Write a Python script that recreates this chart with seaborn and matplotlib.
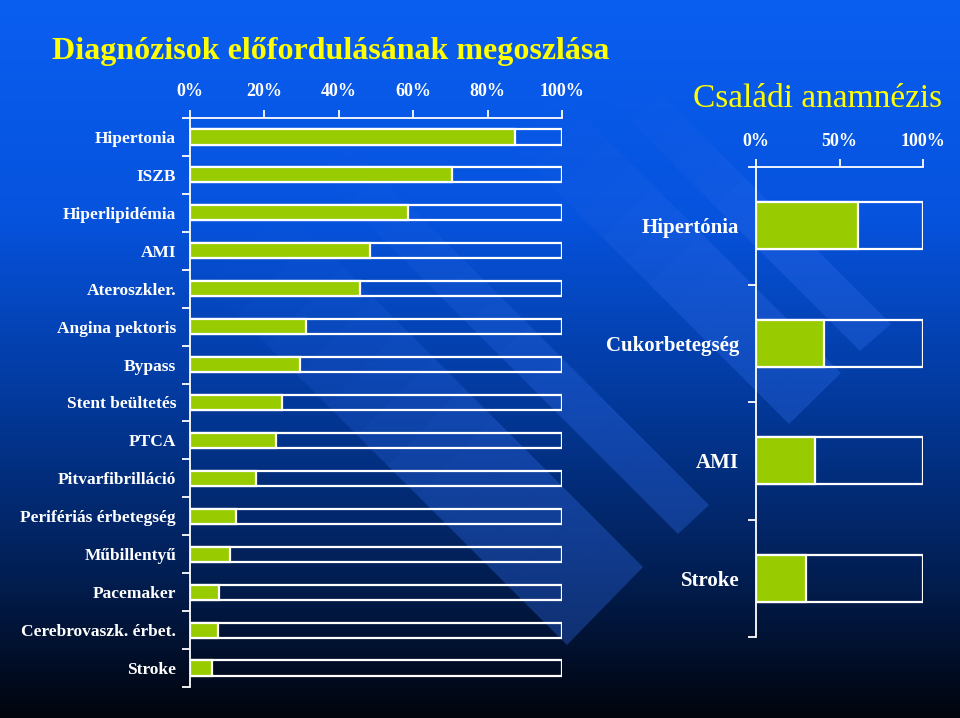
import matplotlib
matplotlib.use("Agg")
import matplotlib.pyplot as plt
from matplotlib.colors import LinearSegmentedColormap
from matplotlib.patches import Polygon
import numpy as np
import pandas as pd
import seaborn as sns

# Diagnózisok (bal oldali diagram), százalék
diag_labels = ["Hipertonia", "ISZB", "Hiperlipidémia", "AMI", "Ateroszkler.",
               "Angina pektoris", "Bypass", "Stent beültetés", "PTCA",
               "Pitvarfibrilláció", "Perifériás érbetegség", "Műbillentyű",
               "Pacemaker", "Cerebrovaszk. érbet.", "Stroke"]
diag_values = [87.3, 70.3, 58.7, 48.3, 45.6, 31.2, 29.7, 24.6, 23.0,
               17.8, 12.3, 10.7, 7.8, 7.4, 5.9]

# Családi anamnézis (jobb oldali diagram), százalék
fam_labels = ["Hipertónia", "Cukorbetegség", "AMI", "Stroke"]
fam_values = [61.2, 41.0, 35.3, 30.1]

left_ticks = [0, 20, 40, 60, 80, 100]
right_ticks = [0, 50, 100]

GREEN = "#99CC00"
YELLOW = "#FFFF00"
SERIF = ["Liberation Serif", "DejaVu Serif"]

sns.set_theme(style="white")
plt.rcParams["font.family"] = SERIF

fig = plt.figure(figsize=(9.6, 7.18), dpi=100)

# háttér: kék színátmenet + átlós csíkok (dia-sablon)
bg = fig.add_axes([0, 0, 1, 1], zorder=-10)
cmap = LinearSegmentedColormap.from_list(
    "bg", [(0.0, "#0A5EF0"), (0.30, "#0653DE"), (0.55, "#033A9E"),
           (0.78, "#02215A"), (1.0, "#01040C")])
grad = np.linspace(0, 1, 256).reshape(-1, 1)
bg.imshow(grad, aspect="auto", cmap=cmap, extent=[0, 960, 718, 0])
# csíkok vége: (csúcs, alsó sarok, hossz), innen balra-felfelé futnak és elhalványulnak
stripe_ends = [((643, 567), (567, 645), 360),
               ((709, 505), (678, 534), 360),
               ((841, 373), (789, 424), 280),
               ((891, 324), (860, 351), 250)]
for (x1, y1), (x2, y2), d in stripe_ends:
    steps = 12
    for k in range(steps):
        a, b = d * k / steps, d * (k + 1) / steps
        alpha = 0.35 * min(1.0, 1.6 * (1 - k / steps))
        pts = [(x1 - a, y1 - a), (x2 - a, y2 - a), (x2 - b, y2 - b), (x1 - b, y1 - b)]
        bg.add_patch(Polygon(pts, closed=True, facecolor="#2E6AE8",
                             alpha=alpha, lw=0))
bg.set_xlim(0, 960)
bg.set_ylim(718, 0)
bg.axis("off")


def stacked_percent(ax, labels, values, ticks, label_size, label_pad, tick_pad):
    df = pd.DataFrame({"label": labels, "value": values})
    df["total"] = 100
    sns.barplot(data=df, x="total", y="label", orient="h", width=0.4,
                facecolor="none", edgecolor="white", linewidth=1.6, ax=ax)
    sns.barplot(data=df, x="value", y="label", orient="h", width=0.4,
                color=GREEN, saturation=1, edgecolor="white", linewidth=1.6, ax=ax)
    n = len(labels)
    ax.set_facecolor("none")
    ax.set_xlim(0, 100)
    ax.set_ylim(n - 0.5, -0.5)
    ax.xaxis.tick_top()
    ax.set_xticks(ticks)
    ax.set_xticklabels([f"{t}%" for t in ticks], color="white",
                       fontsize=13, fontweight="bold")
    ax.set_yticks(range(n))
    ax.set_yticklabels(labels, color="white", fontsize=label_size, fontweight="bold")
    ax.set_yticks(np.arange(n + 1) - 0.5, minor=True)
    ax.tick_params(axis="x", which="major", direction="out", length=6,
                   width=1.3, color="white", pad=tick_pad, top=True, bottom=False)
    ax.tick_params(axis="y", which="major", length=0, pad=label_pad)
    ax.tick_params(axis="y", which="minor", direction="out", length=6,
                   width=1.3, color="white", left=True)
    for side in ["bottom", "right"]:
        ax.spines[side].set_visible(False)
    for side in ["top", "left"]:
        ax.spines[side].set_visible(True)
        ax.spines[side].set_color("white")
        ax.spines[side].set_linewidth(1.3)
    ax.set_xlabel("")
    ax.set_ylabel("")
    ax.grid(False)


ax1 = fig.add_axes([190 / 960, 1 - 687 / 718, 372 / 960, 569 / 718])
stacked_percent(ax1, diag_labels, diag_values, left_ticks, 12.5, 10, 7)

ax2 = fig.add_axes([756 / 960, 1 - 637 / 718, 167 / 960, 470 / 718])
stacked_percent(ax2, fam_labels, fam_values, right_ticks, 15, 12, 6)

fig.text(52 / 960, 1 - 51 / 718, "Diagnózisok előfordulásának megoszlása",
         color=YELLOW, fontsize=23, fontweight="bold", ha="left", va="center")
fig.text(942 / 960, 1 - 99 / 718, "Családi anamnézis",
         color=YELLOW, fontsize=24, ha="right", va="center")

fig.savefig("out.png", dpi=100)
